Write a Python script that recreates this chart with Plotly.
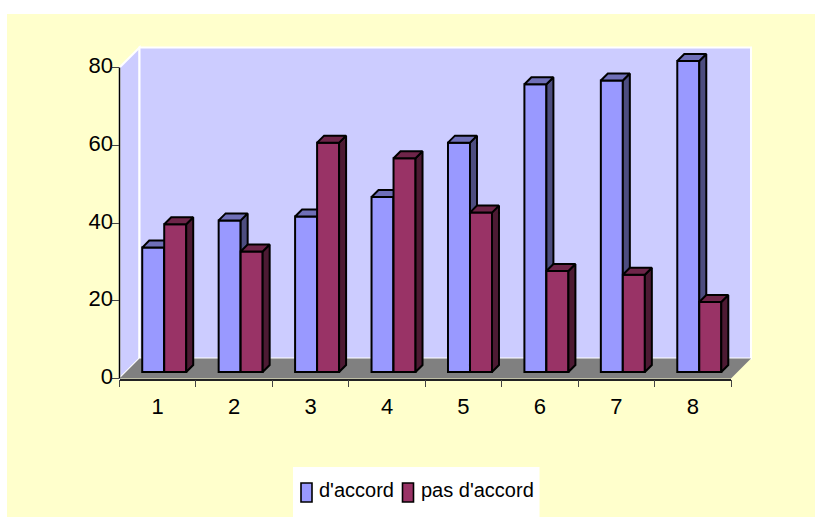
import plotly.graph_objects as go

# Survey results per question
categories = [1, 2, 3, 4, 5, 6, 7, 8]
series_names = ["d'accord", "pas d'accord"]
agree = [32, 39, 40, 45, 59, 74, 75, 80]
disagree = [38, 31, 59, 55, 41, 26, 25, 18]
value_ticks = [0, 20, 40, 60, 80]

# Canvas and front-plane geometry, in pixels
W, H = 815, 517
LEFT, RIGHT, BOTTOM, TOP = 119.5, 731.0, 378.5, 67.5
WALL_DEPTH_PX = 20.0
BAR_INSET_PX = 6.5
BAR_DEPTH_PX = 7.0
BAR_WIDTH_PX = 22.0

XMIN, XMAX = 0.5, 8.5
YMIN, YMAX = 0, 80
ux = (RIGHT - LEFT) / (XMAX - XMIN)
uy = (BOTTOM - TOP) / (YMAX - YMIN)
# The value axis runs on up the back wall so the tallest bar is not cut off
YTOP = YMAX + WALL_DEPTH_PX / uy
PLOT_TOP = TOP - WALL_DEPTH_PX

BLUE, BLUE_TOP, BLUE_SIDE = "#9999FF", "#6F6FB8", "#4D4D80"
RED, RED_TOP, RED_SIDE = "#993366", "#6E2549", "#4D1A33"
WALL, FLOOR, PAGE = "#CCCCFF", "#808080", "#FFFFCC"
OUTLINE = 2


def px(x):
    return x / W


def py(y):
    return 1 - y / H


def poly(points):
    return "M" + " L".join(f"{px(a):.5f},{py(b):.5f}" for a, b in points) + " Z"


def panel(points, fill, line=None, width=0):
    return dict(type="path", xref="paper", yref="paper", layer="below", path=poly(points),
                fillcolor=fill, line=dict(color=line or fill, width=width))


def box(x0, y0, x1, y1, fill, line=None, width=0):
    return dict(type="rect", xref="paper", yref="paper", layer="below",
                x0=px(x0), x1=px(x1), y0=py(y0), y1=py(y1),
                fillcolor=fill, line=dict(color=line or fill, width=width))


# Room behind the bars: page, walls and floor
d = WALL_DEPTH_PX
shapes = [
    box(7, 14, W, H, PAGE),
    panel([(LEFT, BOTTOM), (LEFT + d, BOTTOM - d), (LEFT + d, TOP - d), (LEFT, TOP)], WALL, "white", 2),
    box(LEFT + d, TOP - d, RIGHT + d, BOTTOM - d, WALL, "white", 2),
    panel([(LEFT, BOTTOM), (RIGHT, BOTTOM), (RIGHT + d, BOTTOM - d), (LEFT + d, BOTTOM - d)], FLOOR),
    # Value axis line stops at the last tick, below the top of the wall
    dict(type="line", xref="paper", yref="paper", layer="below", x0=px(LEFT), x1=px(LEFT),
         y0=py(BOTTOM), y1=py(TOP), line=dict(color="black", width=1.5)),
]

# Bars stand part-way into the room, so they are offset from the front plane
off_x = BAR_INSET_PX / ux
base = BAR_INSET_PX / uy
width = BAR_WIDTH_PX / ux
dep_x = BAR_DEPTH_PX / ux
dep_y = BAR_DEPTH_PX / uy


def faces(centres, values):
    """Side and top faces of each bar as None-separated polygons in data units."""
    sx, sy, tx, ty = [], [], [], []
    for c, v in zip(centres, values):
        l, r = c - width / 2, c + width / 2
        top = base + v
        sx += [r, r + dep_x, r + dep_x, r, r, None]
        sy += [base, base + dep_y, top + dep_y, top, base, None]
        tx += [l, l + dep_x, r + dep_x, r, l, None]
        ty += [top, top + dep_y, top + dep_y, top, top, None]
    return sx, sy, tx, ty


def add_series(fig, name, values, centres, front, top_col, side_col, xa, ya):
    sx, sy, tx, ty = faces(centres, values)
    outline = dict(color="black", width=OUTLINE)
    fig.add_trace(go.Bar(name=name, x=centres, y=values, base=[base] * len(values), width=width,
                         marker=dict(color=front, line=outline), cliponaxis=False,
                         showlegend=False, xaxis=xa, yaxis=ya))
    for fx, fy, col in ((sx, sy, side_col), (tx, ty, top_col)):
        fig.add_trace(go.Scatter(x=fx, y=fy, mode="lines", fill="toself", fillcolor=col,
                                 line=outline, cliponaxis=False, hoverinfo="skip",
                                 showlegend=False, xaxis=xa, yaxis=ya))


fig = go.Figure()
add_series(fig, series_names[0], agree, [c + off_x - width / 2 for c in categories],
           BLUE, BLUE_TOP, BLUE_SIDE, "x", "y")
# Second series sits on an overlaying subplot so it covers the first one's side faces
add_series(fig, series_names[1], disagree, [c + off_x + width / 2 for c in categories],
           RED, RED_TOP, RED_SIDE, "x2", "y2")

# Legend panel
shapes += [
    box(293, 467, 539.5, H, "white"),
    box(301, 483, 312, 502, BLUE, "black", 1.6),
    box(402.5, 483, 413.5, 502, RED, "black", 1.6),
]
annotations = [
    dict(xref="paper", yref="paper", x=px(tx), y=py(490), xanchor="left", yanchor="middle",
         text=label, showarrow=False, font=dict(size=20, color="black"), borderpad=0)
    for tx, label in zip((318, 420), series_names)
]

domain_x = [px(LEFT), px(RIGHT)]
domain_y = [py(BOTTOM), py(PLOT_TOP)]
edges = [c - 0.5 for c in categories] + [categories[-1] + 0.5]

fig.update_layout(
    width=W, height=H, autosize=False,
    margin=dict(l=0, r=0, t=0, b=0, pad=0),
    paper_bgcolor="white", plot_bgcolor="rgba(0,0,0,0)",
    font=dict(family="Liberation Sans, Arial, sans-serif", color="black", size=22),
    shapes=shapes, annotations=annotations, showlegend=False, barmode="overlay",
    xaxis=dict(domain=domain_x, range=[XMIN, XMAX], tickvals=categories, ticktext=[str(c) for c in categories],
               ticks="", ticklabelstandoff=7, showgrid=False, zeroline=False, fixedrange=True, automargin=False,
               showline=True, linecolor="#222222", linewidth=1.5,
               minor=dict(tickvals=edges, ticks="outside", ticklen=7, tickwidth=1.2, tickcolor="#444444", showgrid=False)),
    yaxis=dict(domain=domain_y, range=[YMIN, YTOP], tickvals=value_ticks, ticks="outside", ticklen=7,
               tickwidth=1.2, tickcolor="#444444", showgrid=False, zeroline=False, fixedrange=True, automargin=False,
               ticklabelstandoff=-6, ticklabelshift=-2, showline=False),
    xaxis2=dict(domain=domain_x, range=[XMIN, XMAX], overlaying="x", visible=False, fixedrange=True, automargin=False),
    yaxis2=dict(domain=domain_y, range=[YMIN, YTOP], overlaying="y", visible=False, fixedrange=True, automargin=False),
)

fig.write_html("out.html", config={"displayModeBar": False})
